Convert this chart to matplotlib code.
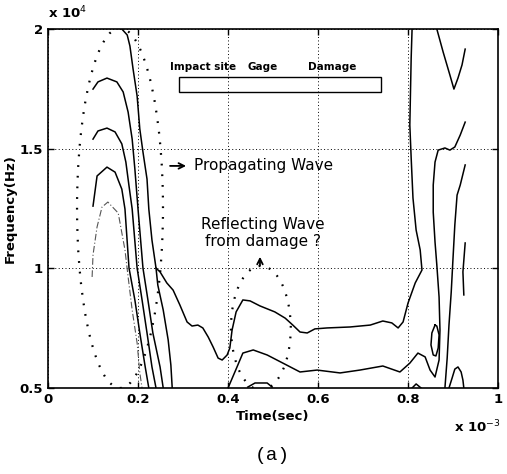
import matplotlib
matplotlib.use('Agg')
import matplotlib.pyplot as plt
from matplotlib.patches import Ellipse, Rectangle

# time in 1e-3 s, frequency in 1e4 Hz
c1_t = [0.164, 0.176, 0.182, 0.189, 0.198, 0.204, 0.211, 0.220, 0.224, 0.231, 0.240,
        0.249, 0.264, 0.278, 0.293, 0.309, 0.320, 0.333, 0.344, 0.356, 0.367, 0.378,
        0.387, 0.398, 0.404, 0.409, 0.418, 0.433, 0.449, 0.471, 0.504, 0.527, 0.544,
        0.560, 0.576, 0.593, 0.620, 0.671, 0.716, 0.744, 0.764, 0.778, 0.789, 0.800,
        0.816, 0.831, 0.827, 0.818, 0.811, 0.807, 0.804, 0.807, 0.809]
c1_f = [2.000, 1.975, 1.929, 1.833, 1.720, 1.582, 1.486, 1.373, 1.248, 1.118, 1.001,
        0.985, 0.939, 0.909, 0.847, 0.776, 0.759, 0.763, 0.751, 0.713, 0.671, 0.625,
        0.617, 0.638, 0.667, 0.742, 0.818, 0.868, 0.864, 0.843, 0.818, 0.792, 0.763,
        0.734, 0.730, 0.747, 0.751, 0.755, 0.763, 0.780, 0.772, 0.751, 0.776, 0.855,
        0.939, 0.993, 1.077, 1.160, 1.294, 1.461, 1.599, 1.879, 2.000]

d_t = [0.240, 0.244, 0.256, 0.267, 0.273, 0.276]
d_f = [1.001, 0.930, 0.826, 0.701, 0.596, 0.500]

a1_t = [0.100, 0.111, 0.131, 0.153, 0.167, 0.178, 0.187, 0.193, 0.200, 0.211, 0.222,
        0.233, 0.249, 0.256]
a1_f = [1.749, 1.779, 1.795, 1.779, 1.737, 1.653, 1.540, 1.415, 1.248, 1.001, 0.868,
        0.730, 0.588, 0.500]

a2_t = [0.100, 0.111, 0.131, 0.149, 0.164, 0.173, 0.180, 0.187, 0.198, 0.209, 0.220,
        0.231, 0.240]
a2_f = [1.540, 1.574, 1.586, 1.570, 1.520, 1.444, 1.344, 1.248, 1.001, 0.868, 0.730,
        0.588, 0.500]

a3_t = [0.100, 0.109, 0.131, 0.149, 0.164, 0.171, 0.180, 0.193, 0.204, 0.216, 0.224]
a3_f = [1.260, 1.386, 1.423, 1.402, 1.331, 1.248, 1.001, 0.868, 0.730, 0.588, 0.500]

a4_t = [0.098, 0.100, 0.109, 0.120, 0.133, 0.156, 0.171, 0.178, 0.187, 0.198, 0.204, 0.209]
a4_f = [0.964, 1.056, 1.173, 1.256, 1.277, 1.231, 1.077, 0.964, 0.826, 0.688, 0.563, 0.500]

c2_t = [0.927, 0.916, 0.904, 0.893, 0.882, 0.867, 0.860, 0.856, 0.856, 0.860, 0.864,
        0.869, 0.871, 0.869, 0.860, 0.849, 0.838, 0.822, 0.804, 0.782, 0.744, 0.693,
        0.649, 0.598, 0.560, 0.522, 0.487, 0.456, 0.433, 0.420, 0.400]
c2_f = [1.611, 1.557, 1.507, 1.494, 1.503, 1.494, 1.444, 1.348, 1.235, 1.110, 1.014,
        0.880, 0.742, 0.617, 0.546, 0.575, 0.630, 0.646, 0.604, 0.567, 0.592, 0.575,
        0.563, 0.575, 0.567, 0.604, 0.638, 0.659, 0.646, 0.588, 0.500]

r1_t = [0.864, 0.878, 0.893, 0.902, 0.911, 0.920, 0.927]
r1_f = [2.000, 1.904, 1.808, 1.749, 1.795, 1.850, 1.916]

r3_t = [0.927, 0.916, 0.909, 0.904, 0.900, 0.896, 0.891, 0.887, 0.882]
r3_f = [1.432, 1.348, 1.306, 1.181, 1.043, 0.901, 0.763, 0.625, 0.500]

r4_t = [0.891, 0.898, 0.904, 0.911, 0.918, 0.922, 0.924]
r4_f = [0.500, 0.542, 0.579, 0.588, 0.567, 0.533, 0.500]

loop_t = [0.860, 0.853, 0.851, 0.856, 0.862, 0.867, 0.869, 0.864, 0.860]
loop_f = [0.763, 0.730, 0.680, 0.638, 0.634, 0.667, 0.722, 0.759, 0.763]

seg_t = [0.927, 0.922, 0.924]
seg_f = [1.106, 0.985, 0.889]

b1_t = [0.444, 0.460, 0.487, 0.498]
b1_f = [0.504, 0.521, 0.521, 0.504]
b2_t = [0.809, 0.818, 0.829]
b2_f = [0.500, 0.517, 0.500]

xticks = [0, 0.2, 0.4, 0.6, 0.8, 1.0]
xlabels = ['0', '0.2', '0.4', '0.6', '0.8', '1']
yticks = [0.5, 1.0, 1.5, 2.0]
ylabels = ['0.5', '1', '1.5', '2']

fig = plt.figure(figsize=(5.07, 4.74), dpi=100)
ax = fig.add_axes([0.0947, 0.1814, 0.8876, 0.7574])

solid = [(c1_t, c1_f), (d_t, d_f), (a1_t, a1_f), (a2_t, a2_f), (a3_t, a3_f),
         (c2_t, c2_f), (r1_t, r1_f), (r3_t, r3_f), (r4_t, r4_f), (loop_t, loop_f),
         (seg_t, seg_f), (b1_t, b1_f), (b2_t, b2_f)]
for tt, ff in solid:
    ax.plot(tt, ff, color='black', lw=1.1)
ax.plot(a4_t, a4_f, color='#555555', lw=0.8, ls=(0, (6, 2, 1, 2)))

# dotted annotation ellipses
ax.add_patch(Ellipse((0.16, 1.252), 0.191, 1.504, fill=False, ec='black',
                     lw=1.6, ls=(0, (0.8, 4))))
ax.add_patch(Ellipse((0.473, 0.751), 0.133, 0.518, fill=False, ec='black',
                     lw=1.6, ls=(0, (0.8, 4))))

# specimen sketch
ax.add_patch(Rectangle((0.291, 1.737), 0.449, 0.062, fill=False, ec='black', lw=1.0))
ax.text(0.344, 1.841, 'Impact site', ha='center', va='center', fontsize=7.5, weight='bold')
ax.text(0.476, 1.841, 'Gage', ha='center', va='center', fontsize=7.5, weight='bold')
ax.text(0.631, 1.841, 'Damage', ha='center', va='center', fontsize=7.5, weight='bold')

ax.annotate('', xy=(0.313, 1.428), xytext=(0.265, 1.428),
            arrowprops=dict(arrowstyle='->', color='black', lw=1.3))
ax.text(0.325, 1.428, 'Propagating Wave', ha='left', va='center', fontsize=11)
ax.text(0.478, 1.148, 'Reflecting Wave\nfrom damage ?', ha='center', va='center',
        fontsize=11, linespacing=1.15)
ax.annotate('', xy=(0.471, 1.06), xytext=(0.471, 1.0),
            arrowprops=dict(arrowstyle='->', color='black', lw=1.3))

ax.set_xlim(0, 1.0)
ax.set_ylim(0.5, 2.0)
ax.set_xticks(xticks)
ax.set_xticklabels(xlabels, fontsize=9.5, weight='bold')
ax.set_yticks(yticks)
ax.set_yticklabels(ylabels, fontsize=9.5, weight='bold')
ax.tick_params(direction='in', top=True, right=True, length=4, width=1)
ax.grid(True, color='black', lw=0.7, ls=(0, (1, 2.5)))
for s in ax.spines.values():
    s.set_linewidth(1.2)

ax.set_xlabel('Time(sec)', fontsize=9.5, weight='bold', labelpad=3)
ax.set_ylabel('Frequency(Hz)', fontsize=9.5, weight='bold', labelpad=2)
ax.text(0.0, 1.022, r'x 10$^{4}$', transform=ax.transAxes, ha='left', va='bottom',
        fontsize=9.5, weight='bold')
ax.text(1.005, -0.085, r'x 10$^{-3}$', transform=ax.transAxes, ha='right', va='top',
        fontsize=9.5, weight='bold')
fig.text(0.538, 0.04, '(a)', ha='center', va='center', fontsize=14,
         family='Liberation Mono')

fig.savefig('out.png', dpi=100)
